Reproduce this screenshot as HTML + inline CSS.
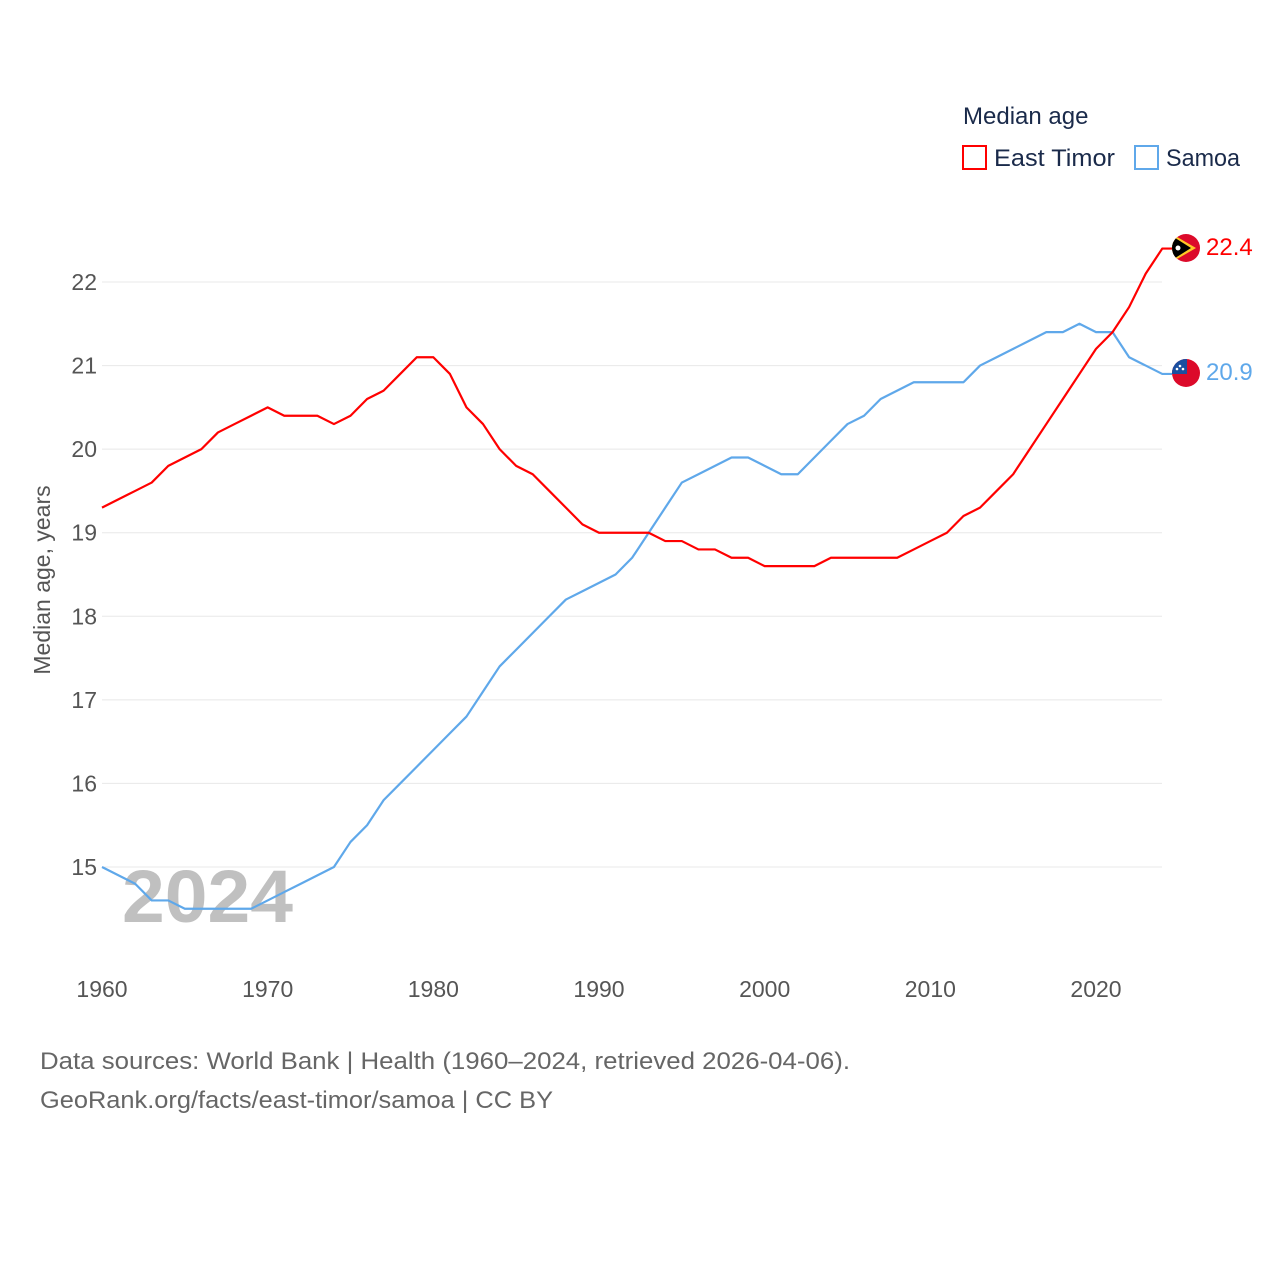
<!DOCTYPE html>
<html><head><meta charset="utf-8"><style>
body{margin:0;background:#fff;}
svg text{font-family:"Liberation Sans",sans-serif;}
</style></head><body>
<svg id="chart" width="1280" height="1280" xmlns="http://www.w3.org/2000/svg">
<defs>
<clipPath id="c1"><circle cx="1186" cy="248" r="14"/></clipPath>
<clipPath id="c2"><circle cx="1186" cy="373" r="14"/></clipPath>
</defs>
<g id="grid"></g>
<g id="yticks"></g>
<g id="xticks"></g>
<text x="122" y="922" font-size="74" font-weight="bold" fill="#c0c0c0" textLength="171" lengthAdjust="spacingAndGlyphs">2024</text>
<g id="lines"></g>
<text transform="translate(50,580) rotate(-90)" text-anchor="middle" font-size="23" fill="#555">Median age, years</text>
<text x="963" y="124" font-size="24" fill="#1a2a4a">Median age</text>
<g>
<rect x="963" y="146" width="23" height="23" fill="none" stroke="#ff0000" stroke-width="2"/>
<text x="994" y="166" font-size="24" fill="#1a2a4a" textLength="121" lengthAdjust="spacingAndGlyphs">East Timor</text></g>
<g>
<rect x="1135" y="146" width="23" height="23" fill="none" stroke="#5fa8ea" stroke-width="2"/>
<text x="1166" y="166" font-size="24" fill="#1a2a4a" textLength="74" lengthAdjust="spacingAndGlyphs">Samoa</text></g>
<g clip-path="url(#c1)">
<rect x="1172" y="234" width="28" height="28" fill="#dc0a2a"/>
<polygon points="1172,234 1196,248 1172,262" fill="#ffc726"/>
<polygon points="1172,236 1191,248 1172,260" fill="#000"/>
<circle cx="1178" cy="248" r="2.5" fill="#fff"/></g>
<g clip-path="url(#c2)">
<rect x="1172" y="359" width="28" height="28" fill="#dc0a2a"/>
<rect x="1172" y="359" width="15" height="15" fill="#1a4fa0"/>
<circle cx="1180" cy="366" r="1.3" fill="#fff"/><circle cx="1183" cy="369" r="1.3" fill="#fff"/><circle cx="1177" cy="369" r="1.3" fill="#fff"/></g>
<text id="lab1" x="1206" y="255" font-size="24" fill="#ff0000">22.4</text>
<text id="lab2" x="1206" y="380" font-size="24" fill="#5fa8ea">20.9</text>
<text x="40" y="1069" font-size="24" fill="#666" textLength="810" lengthAdjust="spacingAndGlyphs">Data sources: World Bank | Health (1960–2024, retrieved 2026-04-06).</text>
<text x="40" y="1108" font-size="24" fill="#666" textLength="513" lengthAdjust="spacingAndGlyphs">GeoRank.org/facts/east-timor/samoa | CC BY</text>
</svg>
<script>
const years=[];for(let y=1960;y<=2024;y++)years.push(y);
const eastTimor=[19.3,19.4,19.5,19.6,19.8,19.9,20.0,20.2,20.3,20.4,20.5,20.4,20.4,20.4,20.3,20.4,20.6,20.7,20.9,21.1,21.1,20.9,20.5,20.3,20.0,19.8,19.7,19.5,19.3,19.1,19.0,19.0,19.0,19.0,18.9,18.9,18.8,18.8,18.7,18.7,18.6,18.6,18.6,18.6,18.7,18.7,18.7,18.7,18.7,18.8,18.9,19.0,19.2,19.3,19.5,19.7,20.0,20.3,20.6,20.9,21.2,21.4,21.7,22.1,22.4];
const samoa=[15.0,14.9,14.8,14.6,14.6,14.5,14.5,14.5,14.5,14.5,14.6,14.7,14.8,14.9,15.0,15.3,15.5,15.8,16.0,16.2,16.4,16.6,16.8,17.1,17.4,17.6,17.8,18.0,18.2,18.3,18.4,18.5,18.7,19.0,19.3,19.6,19.7,19.8,19.9,19.9,19.8,19.7,19.7,19.9,20.1,20.3,20.4,20.6,20.7,20.8,20.8,20.8,20.8,21.0,21.1,21.2,21.3,21.4,21.4,21.5,21.4,21.4,21.1,21.0,20.9];
const yTicks=[15,16,17,18,19,20,21,22];
const xTicks=[1960,1970,1980,1990,2000,2010,2020];
const NS='http://www.w3.org/2000/svg';
const xs=y=>102+(y-1960)*(1096-102)/60;
const ys=v=>867-(v-15)*(867-282)/7;
function mk(t,a,p){const e=document.createElementNS(NS,t);for(const k in a)e.setAttribute(k,a[k]);p.appendChild(e);return e;}
const grid=document.getElementById('grid'),yt=document.getElementById('yticks'),xt=document.getElementById('xticks'),ln=document.getElementById('lines');
yTicks.forEach(v=>{
 const l=mk('line',{x1:102,x2:1162,y1:ys(v),y2:ys(v),stroke:'#e8e8e8','stroke-width':1},grid);
 
 
 const t=mk('text',{x:97,y:ys(v)+8,'text-anchor':'end','font-size':23,fill:'#555'},yt);t.textContent=v;
 
 
});
xTicks.forEach(v=>{
 const t=mk('text',{x:xs(v),y:997,'text-anchor':'middle','font-size':23,fill:'#555'},xt);t.textContent=v;
 
 
});
function line(d,c,n){
 const pts=d.map((v,i)=>xs(years[i])+','+ys(v));
 pts.push('1172,'+ys(d[d.length-1]));
 const p=mk('polyline',{points:pts.join(' '),fill:'none',stroke:c,'stroke-width':2.2,'stroke-linejoin':'round'},ln);
 
 
}
line(samoa,'#5fa8ea','line-samoa');
line(eastTimor,'#ff0000','line-east-timor');
document.getElementById('lab1').textContent=eastTimor[eastTimor.length-1].toFixed(1);
document.getElementById('lab2').textContent=samoa[samoa.length-1].toFixed(1);
</script>
</body></html>
